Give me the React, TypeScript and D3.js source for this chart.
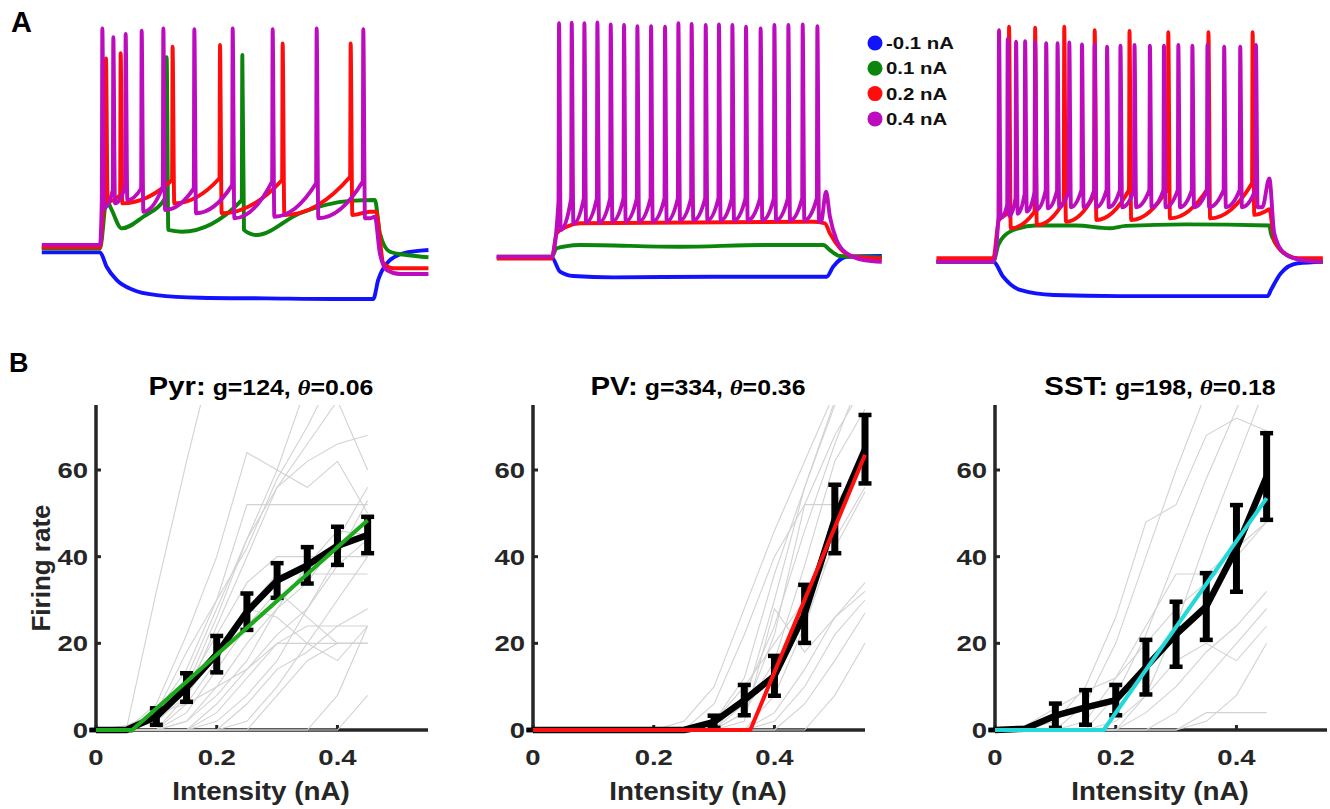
import React from "react";
import * as d3 from "d3";

const WIDTH = 1330;
const HEIGHT = 809;
const FONT = "'Liberation Sans', Arial, Helvetica, sans-serif";
const AXIS = "#262626";

type Pt = [number, number];
// spikes: [time (ms), pre-spike V, peak V, trough V]
type Spike = [number, number, number, number];

// ---------- A: voltage responses to current steps (ms from onset, mV) ----------
const currents = ["-0.1 nA", "0.1 nA", "0.2 nA", "0.4 nA"];
const traceColors = ["#1212ff", "#0b850b", "#ff0d0d", "#bd0cbd"];

const pyrBlue: Pt[] = [[-211, -72], [0, -72], [24, -78.5], [60, -84.5], [121, -89.1], [205, -91.4], [362, -92.6], [604, -92.9], [845, -93.2], [990, -93.2], [1008, -84.5], [1039, -77], [1099, -72.4], [1190, -70.9]];
const pyrGreen: Pt[] = [[-211, -70.2], [0, -70.2], [24, -48.2], [40, -52], [78.5, -61.1], [157, -55.8], [296, -62.6], [567.6, -64.1], [724.6, -54.2], [905.8, -48.6], [996, -48.2], [1014, -63.3], [1050, -71.7], [1111, -73.2], [1190, -74.2]];
const pyrRed: Pt[] = [[-211, -69.7], [0, -69.7], [14.5, -49.7], [978, -53.5], [1000, -53.5], [1027, -77], [1063, -79.2], [1190, -79.2]];
const pyrPurple: Pt[] = [[-211, -68.6], [0, -68.6], [978, -56.5], [996, -55.8], [1014, -72.4], [1039, -80], [1087, -81.8], [1190, -81.8]];
const pyrGreenSpikes: Spike[] = [[241.5, -46.7, 16.7, -61.8], [515.7, -48.2, 17.7, -61.8]];
const pyrRedSpikes: Spike[] = [[21.7, -48.2, 16.2, -48.9], [74.9, -45.9, 18.5, -49.7], [263, -39.1, 21.5, -49.7], [434.8, -38.3, 22.3, -54.2], [661.8, -39.1, 23, -55], [908.2, -37.6, 23, -55]];
const pyrPurpleSpikes: Spike[] = [[8.5, -48.2, 29.8, -52], [48.3, -43.6, 25.8, -49.7], [93, -42.1, 27.3, -48.2], [151, -42.9, 28.8, -53.5], [229.5, -42.1, 29.8, -52.7], [341.8, -42.9, 29.4, -54.2], [480.7, -41.4, 29.8, -56.5], [625.6, -39.8, 29.4, -55.8], [785, -40.6, 29.8, -56.5], [954, -39.8, 29.4, -56.5]];

const pvBlue: Pt[] = [[-199, -70.3], [0, -70.3], [30, -76.8], [78.5, -78.8], [223, -79.4], [586, -79.1], [996, -79.1], [1020, -74.5], [1069, -70], [1196, -69.7]];
const pvGreen: Pt[] = [[-199, -70], [0, -70], [18, -66.2], [54, -65.2], [103, -64.7], [465, -65.5], [767, -64.7], [984, -64.7], [1008, -67], [1045, -69.7], [1196, -70.3]];
const pvRed: Pt[] = [[-199, -70.8], [0, -70.8], [18, -59.4], [54, -56.4], [103, -54.8], [948, -54.1], [990, -54.8], [1008, -59.4], [1045, -66.2], [1093, -70], [1196, -70.8]];
const pvPurple: Pt[] = [[-199, -70], [0, -70], [976, -54], [994, -40.5], [1008, -51.8], [1032, -62.4], [1069, -68.5], [1130, -71.5], [1196, -72.3]];
const pvPurpleSpikes: Spike[] = [[26.6, -45, 36.1, -57.9], [72.5, -43.5, 36.4, -55], [118.4, -43.5, 36.1, -54.5], [165.5, -43.5, 36.5, -54.5], [213.8, -43.5, 35.6, -54], [262, -43.5, 35.3, -54], [310.4, -43.5, 34.8, -54], [360, -43.5, 34.8, -54], [410.6, -43.5, 34.5, -54], [459, -43.5, 36.1, -53.5], [507, -43.5, 35.8, -53.5], [558, -43.5, 35.3, -53.5], [606, -43.5, 35.6, -53.5], [654.6, -43.5, 35.3, -53.5], [704, -43.5, 34.5, -53.5], [757, -43.5, 33.8, -53.5], [806.8, -43.5, 35.3, -53.5], [857.5, -43.5, 35.3, -53.5], [909.4, -43.5, 35.6, -53.5], [962.6, -43.5, 34.8, -54]];

const sstBlue: Pt[] = [[-206, -70.8], [0, -70.8], [36, -77.6], [97, -83.6], [218, -85.9], [460, -86.4], [994, -86.4], [1006, -83.6], [1042, -76], [1103, -71.5], [1194, -70.8]];
const sstGreen: Pt[] = [[-206, -70.8], [0, -70.8], [18, -63.2], [40, -59], [91, -55.6], [152, -54.3], [300, -54.3], [420, -55.6], [480, -54.5], [697, -53.8], [1000, -54.3], [1006, -57.9], [1042, -65.5], [1091, -69.2], [1194, -70.8]];
const sstRed: Pt[] = [[-206, -69.2], [0, -69.2], [20, -52], [985, -48], [1000, -46.9], [1018, -60.9], [1054, -66.9], [1103, -69.2], [1194, -69.2]];
const sstPurple: Pt[] = [[-206, -70.8], [0, -70.8], [975, -46], [1000, -32.9], [1018, -57.9], [1054, -66.9], [1115, -70], [1194, -70.8]];
const sstRedSpikes: Spike[] = [[57.1, -48, 36, -55.6], [151.6, -48, 35.6, -54.1], [257.1, -43.5, 36, -52.6], [367.4, -40.5, 34.5, -51.8], [493.5, -38.2, 34.1, -51.8], [634, -37.4, 33.5, -51.1], [779.5, -37.4, 33.5, -51.1], [939.5, -35.1, 33.5, -49.5]];
const sstPurpleSpikes: Spike[] = [[20.7, -50, 34.5, -51], [52.2, -45, 30.5, -50], [82.5, -42, 29.2, -49], [115.3, -40, 29.5, -48], [151.6, -39, 28.9, -47], [191.6, -38.5, 28.5, -46.5], [232.8, -38.5, 28.5, -46], [275.3, -38.2, 28.9, -46], [321.3, -38.2, 28, -46], [367.4, -38.2, 28, -46], [412.2, -38.2, 27, -46], [460.7, -38.2, 27.4, -46], [511.6, -38.2, 27.7, -46], [567.4, -38.2, 27.4, -46], [618.3, -38.2, 27.4, -46], [670.4, -38.2, 27.7, -46], [721.3, -38.2, 27.4, -46], [775.9, -38.2, 27.7, -46], [836.5, -38.2, 27, -46], [894.7, -38.2, 27, -46], [951.6, -38.2, 27.7, -46]];

// ---------- B: f-I curves (intensity nA, firing rate Hz) ----------
const pyrI = [0, 0.05, 0.1, 0.15, 0.2, 0.25, 0.3, 0.35, 0.4, 0.45];
const pyrMean = [0, 0, 3.1, 9.8, 17.5, 27.3, 34.5, 38, 42.5, 45];
const pyrSem = [0, 0, 1.9, 3.3, 4.2, 4.2, 4, 4.2, 4.4, 4.2];
const pyrFit: Pt[] = [[0, 0], [0.06, 0], [0.45, 48.4]];
const pyrCells = [
  [0, 0, 32, 62, 90, 110, 120, 120, 120, 120],
  [0, 0, 4, 18, 30, 42, 58, 70, 84, 90],
  [0, 0, 2, 10, 26, 44, 60, 80, 90, 95],
  [0, 0, 0, 8, 24, 40, 56, 66, 76, 60],
  [0, 0, 6, 22, 40, 64, 60, 56, 62, 50],
  [0, 0, 2, 12, 28, 44, 56, 62, 66, 68],
  [0, 0, 4, 14, 30, 52, 52, 52, 52, 52],
  [0, 0, 2, 10, 22, 34, 40, 40, 40, 40],
  [0, 0, 0, 6, 16, 28, 36, 36, 36, 36],
  [0, 0, 0, 2, 10, 20, 28, 34, 44, 56],
  [0, 0, 0, 0, 6, 14, 22, 28, 40, 53],
  [0, 0, 0, 0, 4, 12, 20, 24, 24, 24],
  [0, 0, 0, 0, 0, 6, 14, 18, 24, 28],
  [0, 0, 0, 0, 0, 0, 8, 16, 20, 20],
  [0, 0, 0, 0, 0, 0, 0, 0, 0, 8],
  [0, 0, 0, 2, 8, 16, 28, 38, 46, 45],
  [0, 0, 2, 8, 18, 28, 26, 20, 16, 24],
  [0, 0, 0, 4, 14, 24, 32, 26, 20, 20],
  [0, 0, 0, 0, 2, 8, 16, 28, 38, 44],
  [0, 0, 0, 0, 0, 2, 10, 20, 30, 40],
  [0, 1, 4, 6, 10, 14, 20, 20, 20, 20],
  [0, 0, 0, 0, 0, 0, 0, 0, 8, 24],
];

const pvI = [0, 0.05, 0.1, 0.15, 0.2, 0.25, 0.3, 0.35, 0.4, 0.45, 0.5, 0.55];
const pvMean = [0, 0, 0, 0, 0, 0, 1.9, 6.9, 12.5, 26.8, 48.7, 64.8];
const pvSem = [0, 0, 0, 0, 0, 0, 1.4, 3.5, 4.6, 6.7, 7.9, 7.9];
const pvFit: Pt[] = [[0, 0], [0.36, 0], [0.55, 63.5]];
const pvCells = [
  [0, 0, 0, 0, 0, 0, 6, 22, 40, 52, 68, 80],
  [0, 0, 0, 0, 0, 0, 2, 12, 36, 56, 76, 90],
  [0, 0, 0, 0, 0, 0, 0, 8, 24, 46, 66, 84],
  [0, 0, 0, 0, 0, 2, 10, 28, 46, 62, 78, 90],
  [0, 0, 0, 0, 0, 0, 0, 4, 16, 38, 62, 74],
  [0, 0, 0, 0, 0, 0, 0, 0, 8, 24, 44, 56],
  [0, 0, 0, 0, 0, 0, 0, 4, 22, 52, 52, 62],
  [0, 0, 0, 0, 0, 0, 0, 0, 2, 10, 22, 30],
  [0, 0, 0, 0, 0, 0, 0, 0, 0, 6, 16, 27],
  [0, 0, 0, 0, 0, 0, 0, 0, 0, 0, 8, 20],
  [0, 0, 0, 0, 0, 0, 0, 2, 28, 18, 26, 34],
  [0, 0, 0, 0, 0, 0, 2, 10, 20, 30, 42, 55],
  [0, 0, 0, 0, 0, 0, 0, 0, 4, 14, 26, 32],
  [0, 0, 0, 0, 0, 0, 0, 6, 30, 56, 75, 85],
];

const sstI = [0, 0.05, 0.1, 0.15, 0.2, 0.25, 0.3, 0.35, 0.4, 0.45];
const sstMean = [0, 0.3, 3.3, 5.2, 6.9, 14.5, 22.1, 28.5, 41.9, 58.5];
const sstSem = [0, 0, 2.8, 4, 3.5, 6.3, 7.5, 7.7, 10, 10];
const sstFit: Pt[] = [[0, 0], [0.18, 0], [0.45, 53.5]];
const sstCells = [
  [0, 0, 2, 10, 26, 48, 52, 68, 72, 69],
  [0, 0, 0, 6, 20, 40, 60, 78, 90, 95],
  [0, 0, 0, 0, 8, 22, 40, 58, 74, 90],
  [0, 0, 0, 0, 0, 8, 24, 44, 62, 80],
  [0, 0, 0, 2, 12, 24, 36, 36, 42, 48],
  [0, 0, 0, 0, 2, 8, 16, 20, 16, 24],
  [0, 0, 0, 0, 0, 4, 10, 18, 24, 32],
  [0, 0, 0, 0, 0, 0, 4, 12, 20, 28],
  [0, 0, 0, 0, 0, 0, 0, 2, 8, 20],
  [0, 0, 0, 0, 0, 0, 0, 4, 4, 4],
  [0, 1, 5, 9, 12, 20, 28, 34, 40, 48],
];

const cellTypes = ["Pyr:", "PV:", "SST:"];
const gains = [124, 334, 198];
const thresholds = ["0.06", "0.36", "0.18"];
const fitColors = ["#1daa1d", "#ff1010", "#22d8d8"];
const yTicks = [0, 20, 40, 60];
const xTicks = [0, 0.2, 0.4];

// layout
const tracePanels = [
  { x0: 100, y0: 248, keys: [pyrBlue, pyrGreen, pyrRed, pyrPurple], spikes: [[], pyrGreenSpikes, pyrRedSpikes, pyrPurpleSpikes] },
  { x0: 551.7, y0: 256.7, keys: [pvBlue, pvGreen, pvRed, pvPurple], spikes: [[], [], [], pvPurpleSpikes] },
  { x0: 993.3, y0: 260, keys: [sstBlue, sstGreen, sstRed, sstPurple], spikes: [[], [], sstRedSpikes, sstPurpleSpikes] },
];
const fiPanels = [
  { x0: 96, I: pyrI, mean: pyrMean, sem: pyrSem, fit: pyrFit, cells: pyrCells },
  { x0: 533, I: pvI, mean: pvMean, sem: pvSem, fit: pvFit, cells: pvCells },
  { x0: 995, I: sstI, mean: sstMean, sem: sstSem, fit: sstFit, cells: sstCells },
];
const B_TOP = 405;
const B_BOTTOM = 730;
const B_WIDTH = 332;

function tracePoints(keys: Pt[], spikes: Spike[]): Pt[] {
  const pts: Pt[] = keys.slice();
  spikes.forEach(([t, pre, peak, trough]) => {
    pts.push([t - 2, pre], [t, peak], [t + 6, trough]);
  });
  return pts.sort((a, b) => a[0] - b[0]);
}

// the source figure's lettering is a little wider than Liberation Sans
function Label(props: {
  x: number;
  y: number;
  size: number;
  sx: number;
  anchor?: string;
  fill?: string;
  children: React.ReactNode;
}) {
  const { x, y, size, sx, anchor = "start", fill = AXIS, children } = props;
  return (
    <text
      transform={`translate(${x},${y}) scale(${sx},1)`}
      textAnchor={anchor}
      fontSize={size}
      fontWeight="bold"
      fill={fill}
    >
      {children}
    </text>
  );
}

function TracePanel({ p }: { p: (typeof tracePanels)[number] }) {
  const x = d3.scaleLinear().domain([0, 1000]).range([p.x0, p.x0 + 276]);
  const y = d3.scaleLinear().domain([-70, 30]).range([p.y0, p.y0 - 220]);
  const line = d3
    .line<Pt>()
    .x((d) => x(d[0]))
    .y((d) => y(d[1]))
    .curve(d3.curveMonotoneX);
  return (
    <g>
      {p.keys.map((k, i) => (
        <path
          key={i}
          d={line(tracePoints(k, p.spikes[i] as Spike[])) || ""}
          fill="none"
          stroke={traceColors[i]}
          strokeWidth={3.9}
          strokeLinejoin="round"
        />
      ))}
    </g>
  );
}

function FIPanel({ p, idx }: { p: (typeof fiPanels)[number]; idx: number }) {
  const x = d3.scaleLinear().domain([0, 0.55]).range([p.x0, p.x0 + B_WIDTH]);
  const y = d3.scaleLinear().domain([0, 75]).range([B_BOTTOM, B_TOP]);
  const line = d3.line<Pt>().x((d) => x(d[0])).y((d) => y(d[1]));
  const meanPts: Pt[] = p.I.map((v, i) => [v, p.mean[i]]);
  const cx = p.x0 + 165;
  const clipId = `clip-${idx}`;
  return (
    <g>
      <defs>
        <clipPath id={clipId}>
          <rect x={p.x0} y={B_TOP} width={B_WIDTH + 4} height={B_BOTTOM - B_TOP + 2} />
        </clipPath>
      </defs>
      {/* axes */}
      <line x1={p.x0} x2={p.x0} y1={B_TOP} y2={B_BOTTOM} stroke={AXIS} strokeWidth={3.5} />
      <line x1={p.x0 - 1.7} x2={p.x0 + B_WIDTH} y1={B_BOTTOM} y2={B_BOTTOM} stroke={AXIS} strokeWidth={3.5} />
      {yTicks.map((t) => (
        <g key={t}>
          <line x1={p.x0} x2={p.x0 + 5} y1={y(t)} y2={y(t)} stroke={AXIS} strokeWidth={3} />
          <Label x={p.x0 - 8} y={y(t) + 8} size={22} sx={1.25} anchor="end">
            {t}
          </Label>
        </g>
      ))}
      {xTicks.map((t) => (
        <g key={t}>
          <line x1={x(t)} x2={x(t)} y1={B_BOTTOM} y2={B_BOTTOM - 5} stroke={AXIS} strokeWidth={3} />
          <Label x={x(t)} y={765} size={22} sx={1.25} anchor="middle">
            {t}
          </Label>
        </g>
      ))}
      {/* individual cells */}
      <g clipPath={`url(#${clipId})`}>
        {p.cells.map((c, i) => (
          <path
            key={i}
            d={line(p.I.map((v, j) => [v, c[j]] as Pt)) || ""}
            fill="none"
            stroke="#d2d2d2"
            strokeWidth={1.1}
          />
        ))}
      </g>
      {/* mean +- sem */}
      <path d={line(meanPts) || ""} fill="none" stroke="#000" strokeWidth={6.5} strokeLinejoin="round" />
      {p.I.map((v, i) => {
        const top = y(p.mean[i] + p.sem[i]);
        const bot = y(p.mean[i] - p.sem[i]);
        return (
          <g key={i} stroke="#000">
            <line x1={x(v)} x2={x(v)} y1={top} y2={bot} strokeWidth={7} />
            <line x1={x(v) - 6.5} x2={x(v) + 6.5} y1={top} y2={top} strokeWidth={4.5} />
            <line x1={x(v) - 6.5} x2={x(v) + 6.5} y1={bot} y2={bot} strokeWidth={4.5} />
          </g>
        );
      })}
      {/* threshold-linear fit */}
      <path d={line(p.fit) || ""} fill="none" stroke={fitColors[idx]} strokeWidth={4} strokeLinejoin="round" />
      {/* title */}
      <text
        transform={`translate(${cx},395) scale(1.13,1)`}
        textAnchor="middle"
        fontWeight="bold"
        fill="#000"
      >
        <tspan fontSize={26}>{cellTypes[idx]}</tspan>
        <tspan fontSize={22}>{` g=${gains[idx]}, `}</tspan>
        <tspan fontSize={22} fontStyle="italic" fontFamily="'Liberation Serif', serif">θ</tspan>
        <tspan fontSize={22}>{`=${thresholds[idx]}`}</tspan>
      </text>
      <Label x={cx} y={800} size={26} sx={1.07} anchor="middle">
        Intensity (nA)
      </Label>
    </g>
  );
}

export default function App() {
  return (
    <svg
      width={WIDTH}
      height={HEIGHT}
      style={{ position: "absolute", left: 0, top: 0, background: "#fff" }}
      fontFamily={FONT}
    >
      <rect width={WIDTH} height={HEIGHT} fill="#fff" />
      <Label x={11} y={32} size={29} sx={1} fill="#000">A</Label>
      <Label x={9} y={372} size={27} sx={1} fill="#000">B</Label>
      {tracePanels.map((p, i) => (
        <TracePanel key={i} p={p} />
      ))}
      {currents.map((c, i) => (
        <g key={c}>
          <circle cx={875} cy={43 + i * 25.3} r={7.5} fill={traceColors[i]} />
          <Label x={886} y={49 + i * 25.3} size={17} sx={1.2} fill="#111">
            {c}
          </Label>
        </g>
      ))}
      {fiPanels.map((p, i) => (
        <FIPanel key={i} p={p} idx={i} />
      ))}
      <text
        transform="translate(50,568) rotate(-90)"
        textAnchor="middle"
        fontSize={26}
        fontWeight="bold"
        fill={AXIS}
      >
        Firing rate
      </text>
    </svg>
  );
}
